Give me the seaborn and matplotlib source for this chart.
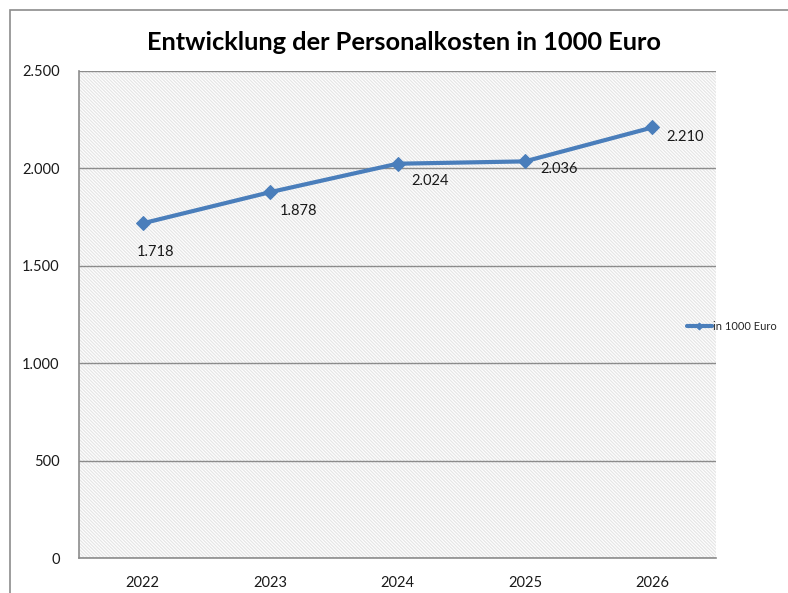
import pandas as pd
import seaborn as sns
import matplotlib.pyplot as plt
from matplotlib.patches import Rectangle
from matplotlib.ticker import FuncFormatter

years = ["2022", "2023", "2024", "2025", "2026"]
kosten = [1718, 1878, 2024, 2036, 2210]
series_name = "in 1000 Euro"
title = "Entwicklung der Personalkosten in 1000 Euro"

# where Excel put each data label, in pixels relative to the point
label_offsets = [(13, -29), (28, -19), (33, -17), (34, -8), (33, -10)]

df = pd.DataFrame({"Jahr": years, "Wert": kosten})

sns.set_style("white")
plt.rcParams["font.family"] = ["Lato", "DejaVu Sans"]
plt.rcParams["hatch.linewidth"] = 0.9

fig = plt.figure(figsize=(7.88, 5.93), dpi=100)
ax = fig.add_axes([79 / 788, 1 - 558 / 593, 637 / 788, 487 / 593])

# outer chart border
fig.patches.append(Rectangle((10 / 788, -0.05), 1.0, 1.05 - 10 / 593,
                             transform=fig.transFigure, fill=False,
                             edgecolor="#8c8c8c", lw=1.2))

# hatched plot area
ax.patch.set_visible(False)
ax.add_patch(Rectangle((0, 0), 1, 1, transform=ax.transAxes, facecolor="white",
                       edgecolor="#e6e6e6", hatch="\\" * 10, lw=0, zorder=0))

sns.lineplot(data=df, x="Jahr", y="Wert", ax=ax, color="#4a7ebb", lw=3,
             marker="D", markersize=7, markeredgecolor="#4a7ebb",
             label=series_name, sort=False, zorder=3)

for i, v in enumerate(kosten):
    dx, dy = label_offsets[i]
    ax.annotate(f"{v:,}".replace(",", "."), (i, v), xytext=(dx * 0.72, dy * 0.72),
                textcoords="offset points", ha="center", va="center",
                fontsize=10.5, color="#1a1a1a")

ax.set_xlim(-0.5, 4.5)
ax.set_ylim(0, 2500)
ax.set_yticks(range(0, 2501, 500))
ax.yaxis.set_major_formatter(FuncFormatter(lambda v, p: f"{int(v):,}".replace(",", ".")))
ax.grid(axis="y", color="#8c8c8c", lw=1)
ax.set_axisbelow(True)
ax.tick_params(axis="both", length=0, labelsize=10.5, colors="#1a1a1a")
ax.tick_params(axis="y", pad=14)
ax.tick_params(axis="x", pad=13)
ax.set_xlabel("")
ax.set_ylabel("")
for s in ["top", "right"]:
    ax.spines[s].set_visible(False)
for s in ["left", "bottom"]:
    ax.spines[s].set_color("#8c8c8c")
    ax.spines[s].set_linewidth(1.2)

ax.legend(loc="center left", bbox_to_anchor=(681 / 788, 1 - 326 / 593),
          bbox_transform=fig.transFigure, frameon=False, fontsize=8,
          handlelength=2.3, handletextpad=0.1, borderpad=0, markerscale=0.5)

fig.text(404 / 788, 1 - 42 / 593, title, ha="center", va="center",
         fontsize=18.3, fontweight="bold", color="#000000")

fig.savefig("out.png", dpi=100)
